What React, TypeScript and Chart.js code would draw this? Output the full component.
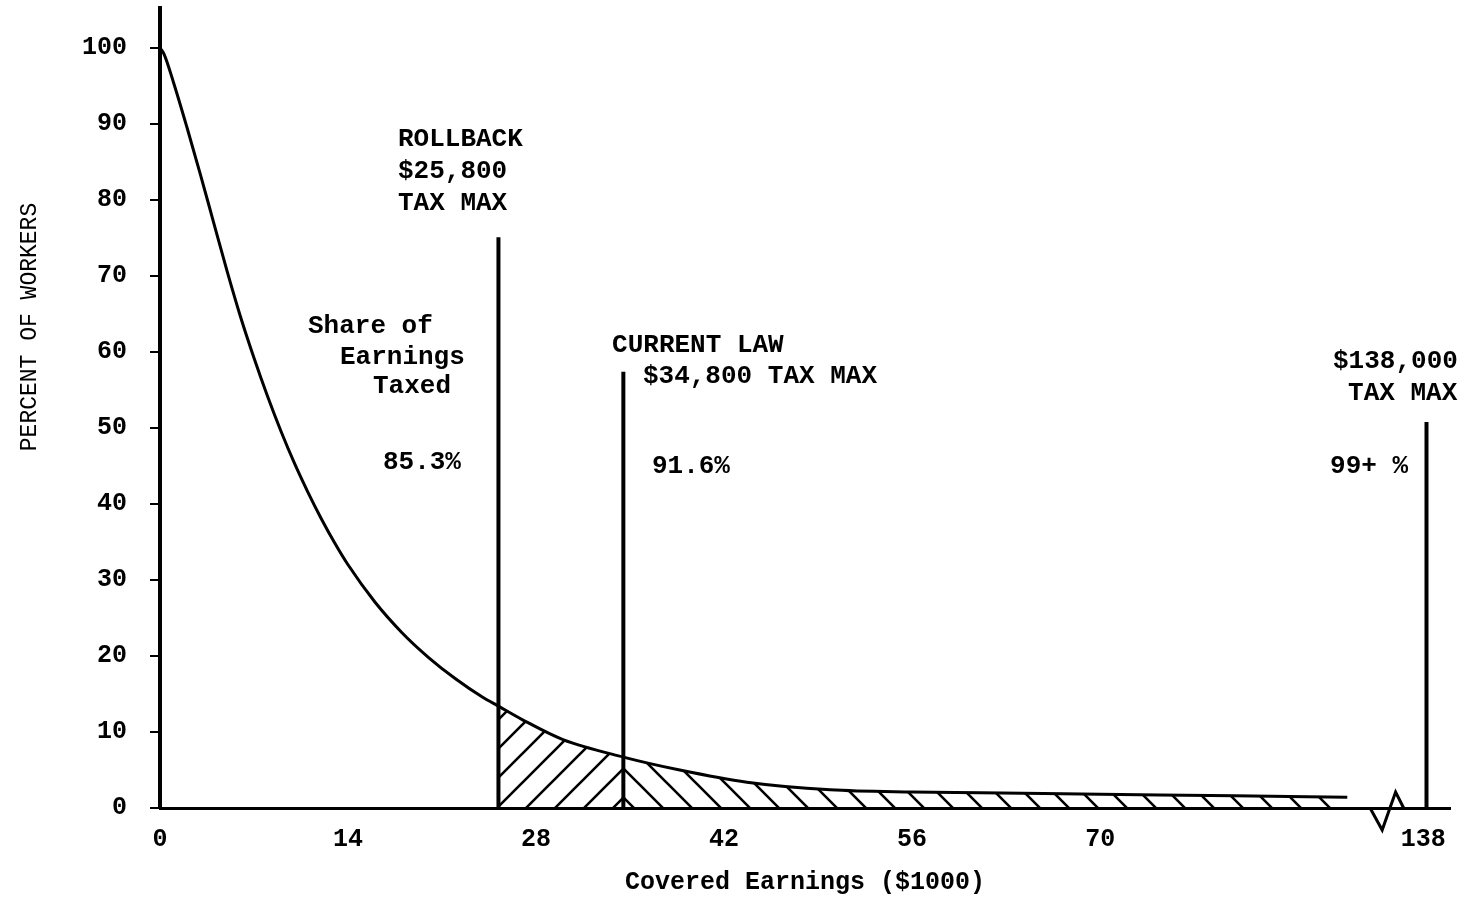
import React, { useEffect, useRef } from 'react';
import { Chart, registerables } from 'chart.js';

Chart.register(...registerables);

// Distribution curve: percent of workers with covered earnings above x ($1000)
const curveX = [0, 0.3, 1, 2, 3, 4, 5, 6, 7, 8, 9, 10, 11, 12, 13, 14, 16, 18, 20, 22, 24, 25.2, 27.0, 30.0, 34.5, 38.7, 43.7, 49.9, 56.0, 61.1, 70.0, 80.0, 88.4];
const curveY = [100, 99.2, 95.5, 89.6, 83.4, 77.0, 70.6, 64.6, 59.2, 54.2, 49.6, 45.4, 41.6, 38.1, 34.9, 32.0, 27.1, 23.1, 19.8, 17.0, 14.6, 13.4, 11.6, 9.0, 6.7, 5.0, 3.4, 2.4, 2.1, 2.0, 1.8, 1.6, 1.4];

// Tax-max marker lines (x position on axis, height of line)
const markerX = [25.2, 34.5, 94.3];
const markerTop = [75.1, 57.4, 50.8];

// Hatched ranges
const hatchLeftRange = [25.2, 34.5];
const hatchRightRange = [34.5, 88.4];

// Axis break squiggle
const breakX = [90.1, 91.0, 92.0, 92.6];
const breakY = [0, -2.9, 2.1, 0];

// Ticks
const xTickValues = [0, 14, 28, 42, 56, 70, 94.05];
const xTickLabels = ['0', '14', '28', '42', '56', '70', '138'];
const yTickValues = [0, 10, 20, 30, 40, 50, 60, 70, 80, 90, 100];

// Annotation texts
const annotationTexts = ['ROLLBACK', '$25,800', 'TAX MAX', 'Share of', 'Earnings', 'Taxed', '85.3%', 'CURRENT LAW', '$34,800 TAX MAX', '91.6%', '$138,000', 'TAX MAX', '99+ %'];
const annotationX = [17.72, 17.72, 17.72, 11.02, 13.4, 15.86, 16.6, 33.66, 35.96, 36.63, 87.34, 88.46, 87.12];
const annotationY = [87.9, 83.8, 79.6, 63.4, 59.3, 55.4, 45.5, 60.9, 56.8, 45.0, 58.7, 54.5, 45.0];

const xTitle = 'Covered Earnings ($1000)';
const yTitle = 'PERCENT OF WORKERS';

const FONT = '"Liberation Mono", "DejaVu Sans Mono", monospace';

function makeHatch(dir: number): CanvasPattern {
  const s = 29;
  const c = document.createElement('canvas');
  c.width = s;
  c.height = s;
  const g = c.getContext('2d')!;
  g.strokeStyle = '#000';
  g.lineWidth = 2.6;
  g.beginPath();
  if (dir > 0) {
    g.moveTo(-3, s + 3); g.lineTo(s + 3, -3);
    g.moveTo(-3, 3); g.lineTo(3, -3);
    g.moveTo(s - 3, s + 3); g.lineTo(s + 3, s - 3);
  } else {
    g.moveTo(-3, -3); g.lineTo(s + 3, s + 3);
    g.moveTo(s - 3, -3); g.lineTo(s + 3, 3);
    g.moveTo(-3, s - 3); g.lineTo(3, s + 3);
  }
  g.stroke();
  return g.createPattern(c, 'repeat')!;
}

export default function App() {
  const ref = useRef<HTMLCanvasElement>(null);

  useEffect(() => {
    const canvas = ref.current!;
    const curve = curveX.map((x, i) => ({ x, y: curveY[i] }));
    const inRange = (r: number[]) => curve.filter((p) => p.x >= r[0] - 1e-9 && p.x <= r[1] + 1e-9);

    const textPlugin = {
      id: 'texts',
      afterDraw(chart: any) {
        const { ctx, scales } = chart;
        const xs = scales.x;
        const ys = scales.y;
        ctx.save();
        ctx.fillStyle = '#000';
        ctx.textBaseline = 'middle';
        ctx.textAlign = 'left';
        ctx.font = `bold 26px ${FONT}`;
        annotationTexts.forEach((t, i) => {
          ctx.fillText(t, xs.getPixelForValue(annotationX[i]), ys.getPixelForValue(annotationY[i]));
        });
        ctx.textAlign = 'center';
        ctx.font = `bold 25px ${FONT}`;
        ctx.fillText(xTitle, (chart.chartArea.left + chart.chartArea.right) / 2, 883);
        ctx.translate(30, 327);
        ctx.rotate(-Math.PI / 2);
        ctx.font = `23px ${FONT}`;
        ctx.fillText(yTitle, 0, 0);
        ctx.restore();
      },
    };

    const chart = new Chart(canvas, {
      type: 'line',
      data: {
        datasets: [
          {
            data: curve,
            borderColor: '#000',
            borderWidth: 3,
            pointRadius: 0,
            fill: false,
            cubicInterpolationMode: 'monotone',
          },
          ...markerX.map((mx, i) => ({
            data: [{ x: mx, y: 0 }, { x: mx, y: markerTop[i] }],
            borderColor: '#000',
            borderWidth: 4,
            pointRadius: 0,
            fill: false,
          })),
          {
            data: breakX.map((x, i) => ({ x, y: breakY[i] })),
            borderColor: '#000',
            borderWidth: 3,
            pointRadius: 0,
            fill: false,
            clip: false,
          },
          {
            data: inRange(hatchLeftRange),
            borderWidth: 0,
            borderColor: 'rgba(0,0,0,0)',
            backgroundColor: makeHatch(1),
            pointRadius: 0,
            fill: 'origin',
            cubicInterpolationMode: 'monotone',
          },
          {
            data: inRange(hatchRightRange),
            borderWidth: 0,
            borderColor: 'rgba(0,0,0,0)',
            backgroundColor: makeHatch(-1),
            pointRadius: 0,
            fill: 'origin',
            cubicInterpolationMode: 'monotone',
          },
        ] as any,
      },
      options: {
        animation: false,
        responsive: false,
        devicePixelRatio: 1,
        layout: { padding: { top: 8, right: 31, left: 0, bottom: 0 } },
        plugins: { legend: { display: false }, tooltip: { enabled: false } },
        scales: {
          x: {
            type: 'linear',
            min: 0,
            max: 96.05,
            afterBuildTicks: (s: any) => {
              s.ticks = xTickValues.map((v) => ({ value: v }));
            },
            afterFit: (s: any) => {
              s.height = 92;
              s.paddingLeft = 0;
              s.paddingRight = 0;
            },
            ticks: {
              color: '#000',
              font: { family: FONT, size: 25, weight: 'bold' },
              padding: 17,
              maxRotation: 0,
              autoSkip: false,
              callback: (v: any) => {
                const i = xTickValues.indexOf(Number(v));
                return i >= 0 ? xTickLabels[i] : '';
              },
            },
            grid: { display: true, drawOnChartArea: false, drawTicks: false },
            border: { display: true, color: '#000', width: 3 },
          },
          y: {
            type: 'linear',
            min: 0,
            max: 105.26,
            afterBuildTicks: (s: any) => {
              s.ticks = yTickValues.map((v) => ({ value: v }));
            },
            afterFit: (s: any) => {
              s.width = 160;
              s.paddingTop = 0;
              s.paddingBottom = 0;
            },
            ticks: {
              color: '#000',
              font: { family: FONT, size: 25, weight: 'bold' },
              padding: 23,
              autoSkip: false,
            },
            grid: { display: true, drawOnChartArea: false, drawTicks: true, tickLength: 10, color: '#000', lineWidth: 2 },
            border: { display: true, color: '#000', width: 4 },
          },
        },
      },
      plugins: [textPlugin],
    } as any);

    return () => chart.destroy();
  }, []);

  return (
    <div style={{ position: 'absolute', left: 0, top: 0, width: 1481, height: 900, background: '#fff' }}>
      <canvas ref={ref} width={1481} height={900} style={{ display: 'block' }} />
    </div>
  );
}
